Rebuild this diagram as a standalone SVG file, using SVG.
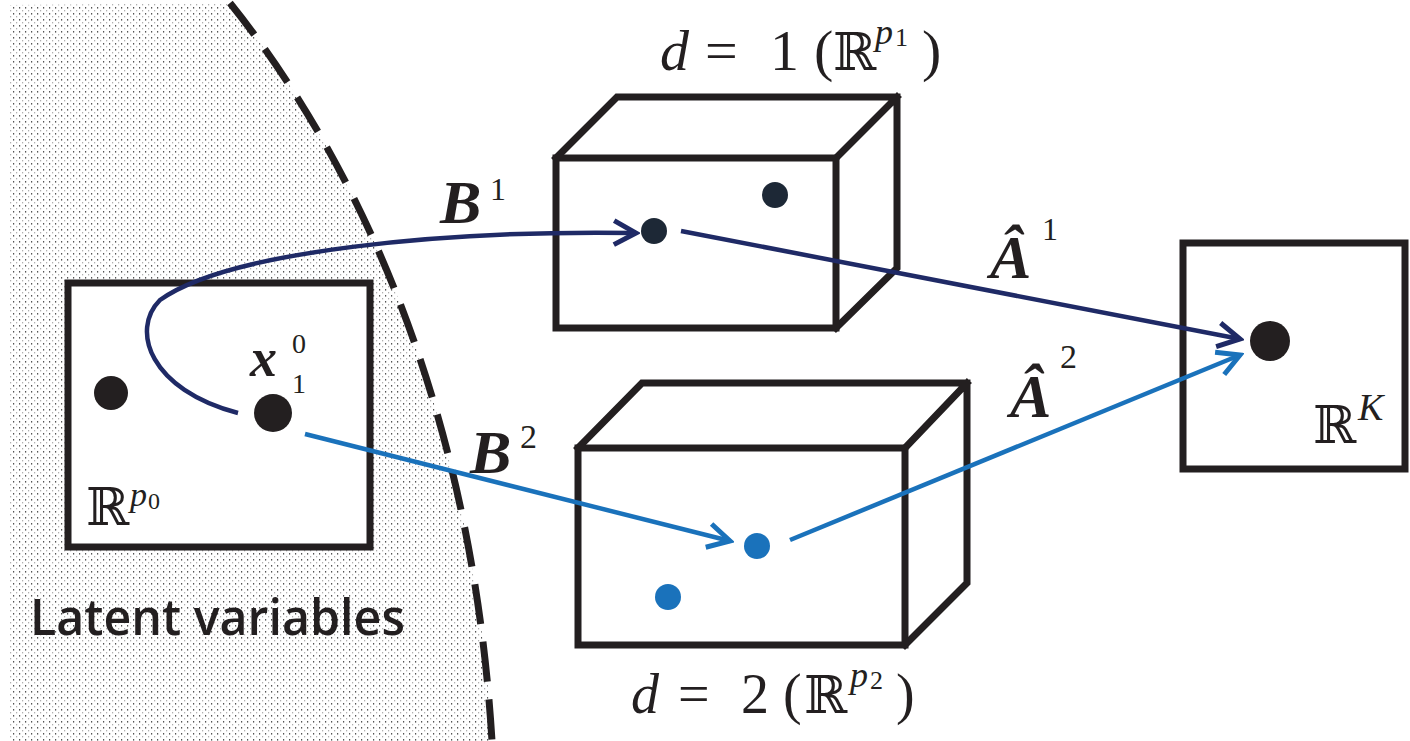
<svg xmlns="http://www.w3.org/2000/svg" width="1410" height="741" viewBox="0 0 1410 741">
<style>
.box{fill:#fff;stroke:#231f20;stroke-width:7;stroke-linejoin:miter}
.edge{fill:none;stroke:#231f20;stroke-width:7;stroke-linecap:square}
.math{font-family:"Liberation Serif","DejaVu Serif",serif;fill:#231f20}
.bb{font-family:"DejaVu Serif",serif;fill:#231f20}
.bi{font-weight:bold;font-style:italic}
.it{font-style:italic}
.navy{fill:none;stroke:#1f2a66;stroke-width:4.5}
.blue{fill:none;stroke:#1a72bb;stroke-width:4.5}
</style>
<defs>
<pattern id="dots" width="6" height="6" patternUnits="userSpaceOnUse">
<rect x="1" y="1" width="1.2" height="1.6" fill="#555"/>
<rect x="4" y="4" width="1.2" height="1.4" fill="#b0b0b0"/>
</pattern>
<marker id="mNavy" viewBox="0 0 30 30" refX="26" refY="15" markerWidth="30" markerHeight="30" markerUnits="userSpaceOnUse" orient="auto">
<path d="M4 3 L26 15 L4 27" fill="none" stroke="#1f2a66" stroke-width="5" stroke-linejoin="miter"/>
</marker>
<marker id="mBlue" viewBox="0 0 30 30" refX="26" refY="15" markerWidth="30" markerHeight="30" markerUnits="userSpaceOnUse" orient="auto">
<path d="M4 3 L26 15 L4 27" fill="none" stroke="#1a72bb" stroke-width="5" stroke-linejoin="miter"/>
</marker>
</defs>
<rect width="1410" height="741" fill="#fff"/>
<g id="latent-region">
<path d="M10 5 L230 3 C340 140 470 380 492 741 L10 741 Z" fill="url(#dots)"/>
<path d="M230 3 C340 140 470 380 492 741" fill="none" stroke="#231f20" stroke-width="7" stroke-dasharray="40 18"/>
<text x="30" y="635" font-family="Open Sans, Noto Sans, sans-serif" font-size="50" font-weight="600" textLength="375" lengthAdjust="spacingAndGlyphs" fill="#231f20">Latent variables</text>
</g>
<g id="latent-box">
<rect class="box" x="68" y="283" width="302" height="264"/>
<circle cx="111" cy="393" r="17" fill="#231f20"/>
<circle cx="273" cy="413" r="19" fill="#231f20"/>
<text class="math bi" x="250" y="376" font-size="54">x</text>
<text class="math" x="292" y="353" font-size="28">0</text>
<text class="math" x="292" y="393" font-size="28">1</text>
<text class="bb" x="86" y="525" font-size="52">ℝ</text>
<text class="math it" x="130" y="506" font-size="34">p</text>
<text class="math" x="148" y="509" font-size="24">0</text>
</g>
<g id="box-d1">
<path class="edge" d="M556 158 L617 97 L897 97 L897 268 L836 328 M836 158 L897 97"/>
<rect class="box" x="556" y="158" width="280" height="170"/>
<circle cx="654" cy="231" r="13" fill="#1d2836"/>
<circle cx="775" cy="195" r="13" fill="#1d2836"/>
<text class="math" y="70" font-size="58"><tspan class="it" x="660">d</tspan><tspan x="705">=</tspan><tspan x="770">1</tspan><tspan x="814">(</tspan></text>
<text class="bb" x="833" y="70" font-size="52">ℝ</text>
<text class="math" y="44"><tspan class="it" x="875" font-size="36">p</tspan><tspan x="895" y="46" font-size="26">1</tspan></text>
<text class="math" x="922" y="70" font-size="58">)</text>
</g>
<g id="box-d2">
<path class="edge" d="M578 448 L642 383 L967 383 L967 583 L905 645 M905 448 L967 383"/>
<rect class="box" x="578" y="448" width="327" height="197"/>
<circle cx="757" cy="546" r="13" fill="#1a72bb"/>
<circle cx="668" cy="597" r="13" fill="#1a72bb"/>
<text class="math" y="713" font-size="56"><tspan class="it" x="631">d</tspan><tspan x="678">=</tspan><tspan x="741">2</tspan><tspan x="783">(</tspan></text>
<text class="bb" x="804" y="713" font-size="52">ℝ</text>
<text class="math" y="687"><tspan class="it" x="850" font-size="36">p</tspan><tspan x="870" y="689" font-size="26">2</tspan></text>
<text class="math" x="896" y="713" font-size="56">)</text>
</g>
<g id="output-box">
<rect class="box" x="1183" y="243" width="222" height="226"/>
<circle cx="1270" cy="341" r="20" fill="#231f20"/>
<text class="bb" x="1313" y="443" font-size="52">ℝ</text>
<text class="math it" x="1358" y="420" font-size="38">K</text>
</g>
<g id="connectors">
<path class="navy" d="M238 413 C150 390 130 330 160 300 C230 250 450 230 636 233" marker-end="url(#mNavy)"/>
<path class="navy" d="M681 231 L1240 339" marker-end="url(#mNavy)"/>
<path class="blue" d="M305 434 L730 541" marker-end="url(#mBlue)"/>
<path class="blue" d="M790 540 L1240 355" marker-end="url(#mBlue)"/>
</g>
<g id="labels">
<text class="math bi" x="440" y="223" font-size="62">B</text>
<text class="math" x="490" y="200" font-size="32">1</text>
<text class="math bi" x="470" y="473" font-size="62">B</text>
<text class="math" x="520" y="448" font-size="34">2</text>
<text class="math bi" x="990" y="278" font-size="62">Â</text>
<text class="math" x="1042" y="240" font-size="32">1</text>
<text class="math bi" x="1010" y="417" font-size="62">Â</text>
<text class="math" x="1060" y="368" font-size="34">2</text>
</g>
</svg>
